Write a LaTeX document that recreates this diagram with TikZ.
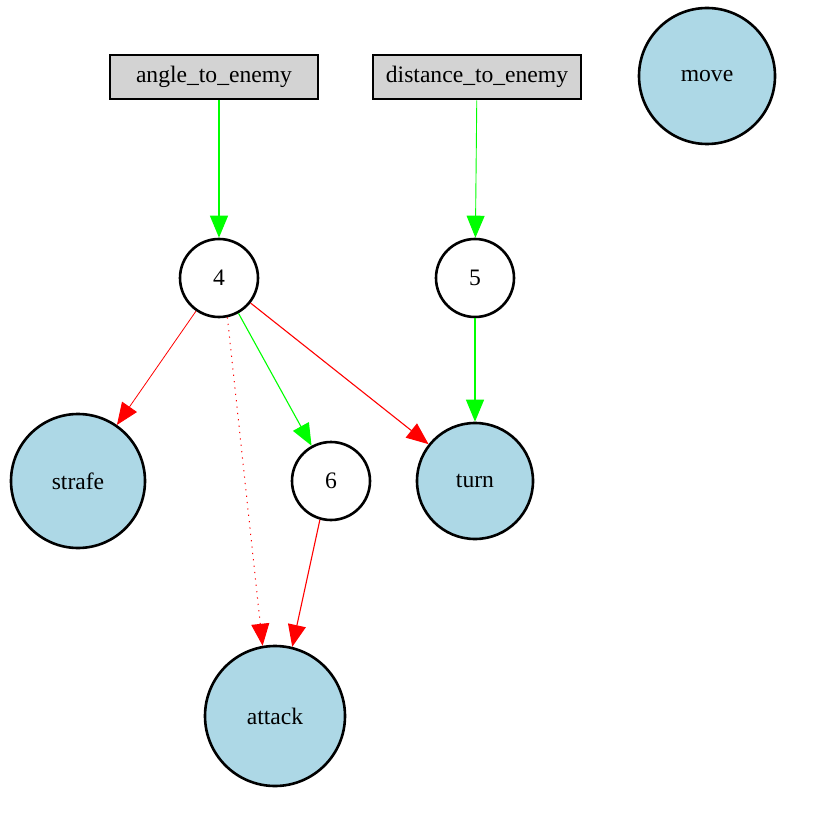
\documentclass[tikz,border=0pt]{standalone}
\usepackage{fontspec}
\setmainfont{Liberation Serif}
\usepackage{tikz}
\usetikzlibrary{arrows.meta}

\definecolor{nodeblue}{HTML}{ADD8E6}
\definecolor{boxgray}{HTML}{D3D3D3}
\definecolor{posgreen}{HTML}{00FF00}
\definecolor{negred}{HTML}{FF0000}

\begin{document}
\begin{tikzpicture}[x=0.5pt,y=-0.5pt,
    font=\fontsize{11.8}{14}\selectfont,
    inbox/.style={draw=black,fill=boxgray,line width=1.3pt,minimum width=104pt,minimum height=22pt,inner sep=0pt},
    hidden/.style={circle,draw=black,fill=white,line width=1.3pt,minimum size=39pt,inner sep=0pt},
    outnode/.style={circle,draw=black,fill=nodeblue,line width=1.3pt,inner sep=0pt},
    wire/.style={line width=0.55pt,-{Triangle[length=11pt,width=9pt]}},
    poslink/.style={wire,posgreen},
    neglink/.style={wire,negred}]
\useasboundingbox (0,0) rectangle (834,828);

% inputs
\node[inbox] (angle) at (214,77) {angle\_to\_enemy};
\node[inbox] (distance) at (477,77) {distance\_to\_enemy};

% outputs
\node[outnode,minimum size=68pt] (move) at (707,76) {move};
\node[outnode,minimum size=67pt] (strafe) at (78,481) {strafe};
\node[outnode,minimum size=58pt] (turn) at (475,481) {turn};
\node[outnode,minimum size=70pt] (attack) at (275,716) {attack};

% hidden
\node[hidden] (n4) at (219,278) {4};
\node[hidden] (n5) at (475,278) {5};
\node[hidden] (n6) at (331,481) {6};

% connections
\draw[poslink,line width=0.6pt] (n4 |- angle.south) -- (n4);
\draw[poslink,line width=0.45pt] (distance) -- (n5);
\draw[neglink,line width=0.4pt] (n4) -- (strafe);
\draw[neglink,line width=0.5pt,dash pattern=on 0.6pt off 2.6pt] (n4.-78) -- (attack.100);
\draw[poslink] (n4) -- (n6);
\draw[neglink] (n4) -- (turn);
\draw[poslink,line width=0.55pt] (n5) -- (turn);
\draw[neglink] (n6.-106) -- (attack.76);

\end{tikzpicture}
\end{document}
